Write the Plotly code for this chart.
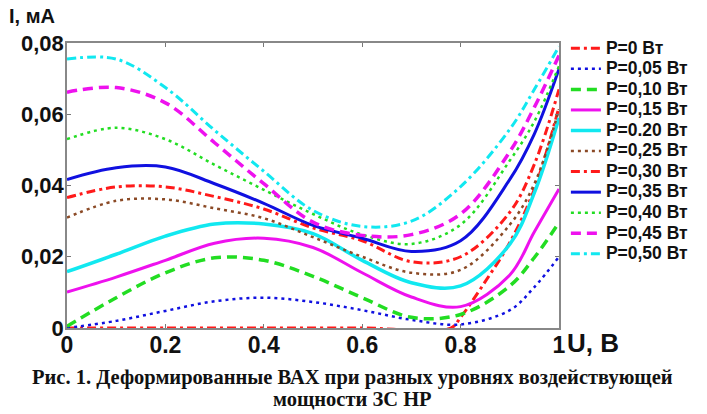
import plotly.graph_objects as go

# ---- data ----
U = [0, 0.1, 0.2, 0.3, 0.4, 0.5, 0.6, 0.7, 0.8, 0.9, 0.95, 1.0]

U_P0 = [0, 0.2, 0.4, 0.6, 0.78, 0.8, 0.85, 0.9, 0.95, 1.0]
I_P0 = [0, 0, 0, 0, 0, 0.003, 0.013, 0.024, 0.039, 0.062]

I_P005 = [0.0, 0.002, 0.0048, 0.0075, 0.0085, 0.0073, 0.005, 0.0023, 0.001, 0.005, 0.0115, 0.020]
I_P010 = [0.0005, 0.0085, 0.0155, 0.0197, 0.0190, 0.0145, 0.0085, 0.0030, 0.0038, 0.0118, 0.0198, 0.0296]
I_P015 = [0.0101, 0.0143, 0.0190, 0.0238, 0.0252, 0.0226, 0.0155, 0.0087, 0.0060, 0.0149, 0.027, 0.039]
I_P020 = [0.0158, 0.0207, 0.0258, 0.0292, 0.0292, 0.0265, 0.019, 0.0127, 0.0118, 0.0235, 0.038, 0.059]
I_P025 = [0.031, 0.0357, 0.0361, 0.0336, 0.0308, 0.0255, 0.020, 0.0155, 0.0163, 0.029, 0.0405, 0.0614]
I_P030 = [0.0366, 0.0396, 0.0396, 0.0369, 0.0334, 0.0281, 0.0245, 0.0186, 0.0200, 0.0325, 0.046, 0.067]
I_P035 = [0.0417, 0.0450, 0.0452, 0.0405, 0.0350, 0.0288, 0.0252, 0.0215, 0.0245, 0.0417, 0.0545, 0.0727]
I_P040 = [0.0530, 0.0562, 0.0530, 0.0458, 0.0388, 0.032, 0.0262, 0.0236, 0.029, 0.047, 0.058, 0.0735]
I_P045 = [0.0662, 0.0675, 0.0632, 0.0520, 0.0405, 0.0297, 0.0260, 0.0262, 0.032, 0.0495, 0.062, 0.0765]
I_P050 = [0.0755, 0.0755, 0.0675, 0.0555, 0.0440, 0.0330, 0.0285, 0.0300, 0.0397, 0.0558, 0.067, 0.079]

NAMES = ["P=0 Вт", "P=0,05 Вт", "P=0,10 Вт", "P=0,15 Вт", "P=0.20 Вт", "P=0,25 Вт",
         "P=0,30 Вт", "P=0,35 Вт", "P=0,40 Вт", "P=0,45 Вт", "P=0,50 Вт"]

X_TICKS = [0, 0.2, 0.4, 0.6, 0.8, 1]
X_TICKTEXT = ["0", "0.2", "0.4", "0.6", "0.8", "1"]
Y_TICKS = [0, 0.02, 0.04, 0.06, 0.08]
Y_TICKTEXT = ["0", "0,02", "0,04", "0,06", "0,08"]

# ---- styles ----
RED = "#ff1a1a"
BLUE = "#1010e0"
GREEN = "#22dd22"
MAG = "#ee11ee"
CYAN = "#11e8f0"
BROWN = "#8b4a26"
DASHDOT = "9px,4px,3px,4px"
DOT = "3px,4px"
DASH = "10px,6px"

series = [
    (U_P0, I_P0, RED, DASHDOT, 3),
    (U, I_P005, BLUE, DOT, 2.5),
    (U, I_P010, GREEN, DASH, 3.5),
    (U, I_P015, MAG, "solid", 3),
    (U, I_P020, CYAN, "solid", 3.5),
    (U, I_P025, BROWN, DOT, 2.5),
    (U, I_P030, RED, DASHDOT, 3),
    (U, I_P035, BLUE, "solid", 3),
    (U, I_P040, GREEN, DOT, 2.5),
    (U, I_P045, MAG, DASH, 3.5),
    (U, I_P050, CYAN, DASHDOT, 3),
]

fig = go.Figure()
for (xs, ys, col, dash, w), name in zip(series, NAMES):
    fig.add_trace(go.Scatter(x=xs, y=ys, mode="lines",
                             name='<span style="font-size:17.5px">' + name + "</span>",
                             line=dict(color=col, dash=dash, width=w, shape="spline")))

SANS = "Liberation Sans, Arial"
xfont = dict(family=SANS, size=23, color="#111", weight="bold")
yfont = dict(family=SANS, size=22, color="#111", weight="bold")
fig.update_layout(
    width=707, height=414,
    margin=dict(l=59, r=156, t=35, b=94),
    paper_bgcolor="white", plot_bgcolor="white",
    showlegend=True,
    legend=dict(x=1.014, y=1.035, xanchor="left", yanchor="top", maxheight=380,
                font=dict(family=SANS, size=13.5, color="#111", weight="bold"),
                tracegroupgap=0, itemwidth=30, bgcolor="rgba(0,0,0,0)"),
    xaxis=dict(range=[0, 1], tickvals=X_TICKS, ticktext=X_TICKTEXT, ticks="inside",
               ticklen=4, tickcolor="#777", showline=True, linecolor="#888", linewidth=1.5,
               mirror="ticks", showgrid=False, zeroline=False, tickfont=xfont,
               ticklabelstandoff=-4),
    yaxis=dict(range=[0, 0.08], tickvals=Y_TICKS, ticktext=Y_TICKTEXT, ticks="inside",
               ticklen=4, tickcolor="#777", showline=True, linecolor="#888", linewidth=1.5,
               mirror="ticks", showgrid=False, zeroline=False, tickfont=yfont,
               ticklabelstandoff=-3),
)

fig.add_annotation(text="I, мА", xref="paper", yref="paper", x=-0.122, y=1.0947,
                   xanchor="left", yanchor="middle", showarrow=False,
                   font=dict(family=SANS, size=20, color="#111", weight="bold"))
fig.add_annotation(text="U, В", xref="paper", yref="paper", x=1.012, y=-0.053,
                   xanchor="left", yanchor="middle", showarrow=False,
                   font=dict(family=SANS, size=26, color="#111", weight="bold"))
cap_font = dict(family="Liberation Serif, Times New Roman", size=20.5, color="#111", weight="bold")
fig.add_annotation(text="Рис. 1. Деформированные ВАХ при разных уровнях воздействующей",
                   xref="paper", yref="paper", x=0.581, y=-0.175, xanchor="center",
                   yanchor="middle", showarrow=False, font=cap_font)
fig.add_annotation(text="мощности ЗС НР", xref="paper", yref="paper", x=0.581, y=-0.249,
                   xanchor="center", yanchor="middle", showarrow=False, font=cap_font)

fig.write_html("out.html")
